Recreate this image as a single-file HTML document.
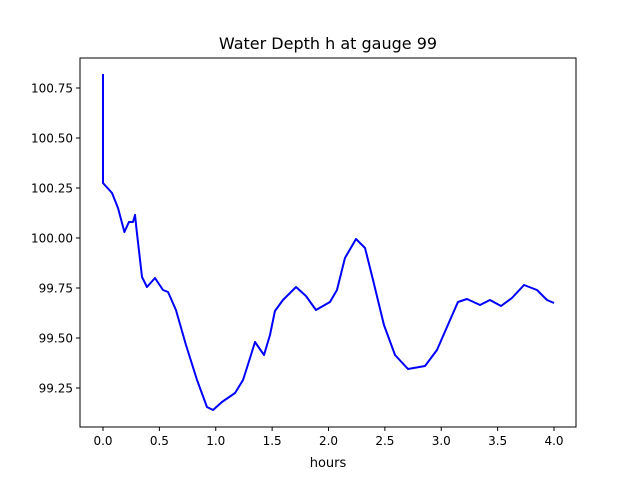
<!DOCTYPE html>
<html><head><meta charset="utf-8"><style>
body{margin:0;background:#fff;}
svg text{font-family:"DejaVu Sans","Liberation Sans",sans-serif;fill:#000;}
</style></head><body>
<svg id="chart" width="640" height="480" xmlns="http://www.w3.org/2000/svg">
<rect width="640" height="480" fill="#fff"/>
<text x="328" y="49" font-size="16" text-anchor="middle">Water Depth h at gauge 99</text>
<g id="plot"></g>
<text x="328" y="467" font-size="13" text-anchor="middle">hours</text>
</svg>
<script>
const hours=[0,0,0.08,0.133,0.19,0.23,0.266,0.284,0.30,0.346,0.39,0.461,0.532,0.577,0.647,0.736,0.834,0.922,0.976,1.055,1.171,1.242,1.304,1.348,1.428,1.481,1.525,1.596,1.712,1.80,1.889,2.013,2.075,2.146,2.244,2.324,2.395,2.492,2.59,2.705,2.856,2.962,3.078,3.148,3.228,3.344,3.432,3.53,3.627,3.734,3.849,3.938,4.0];
const depth=[100.82,100.275,100.225,100.15,100.03,100.08,100.08,100.115,100.03,99.805,99.755,99.80,99.74,99.73,99.64,99.465,99.29,99.155,99.14,99.18,99.225,99.29,99.40,99.48,99.415,99.515,99.635,99.69,99.755,99.71,99.64,99.68,99.74,99.90,99.995,99.95,99.79,99.565,99.415,99.345,99.36,99.44,99.59,99.68,99.695,99.665,99.69,99.66,99.70,99.765,99.74,99.69,99.675];
const xTicks=[0,0.5,1,1.5,2,2.5,3,3.5,4];
const xTickLabels=["0.0","0.5","1.0","1.5","2.0","2.5","3.0","3.5","4.0"];
const yTicks=[99.25,99.5,99.75,100,100.25,100.5,100.75];
const yTickLabels=["99.25","99.50","99.75","100.00","100.25","100.50","100.75"];
const L=80,R=576,T=58,B=427;
const X=v=>103+v*112.75;
const Y=v=>238-(v-100)*200;
const NS="http://www.w3.org/2000/svg";
const g=document.getElementById('plot');
function mk(t,a){const e=document.createElementNS(NS,t);for(const k in a)e.setAttribute(k,a[k]);g.appendChild(e);return e;}
// line
let d="";
for(let i=0;i<hours.length;i++)d+=(i?"L":"M")+X(hours[i]).toFixed(2)+","+Y(depth[i]).toFixed(2);
const line=mk('path',{d:d,fill:'none',stroke:'#0000ff','stroke-width':2,'stroke-linejoin':'round'});


// frame
const fr=mk('rect',{x:L,y:T,width:R-L,height:B-T,fill:'none',stroke:'#000','stroke-width':1});


xTicks.forEach((v,i)=>{
  const x=X(v);
  const tk=mk('line',{x1:x,x2:x,y1:B,y2:B+4,stroke:'#000'});
  
  
  const t=mk('text',{x:x,y:B+18,'font-size':12,'text-anchor':'middle'});
  t.textContent=xTickLabels[i];
  
  
});
yTicks.forEach((v,i)=>{
  const y=Y(v);
  const tk=mk('line',{x1:L-4,x2:L,y1:y,y2:y,stroke:'#000'});
  
  
  const t=mk('text',{x:L-7,y:y+4.5,'font-size':12,'text-anchor':'end'});
  t.textContent=yTickLabels[i];
  
  
});
</script>
</body></html>
